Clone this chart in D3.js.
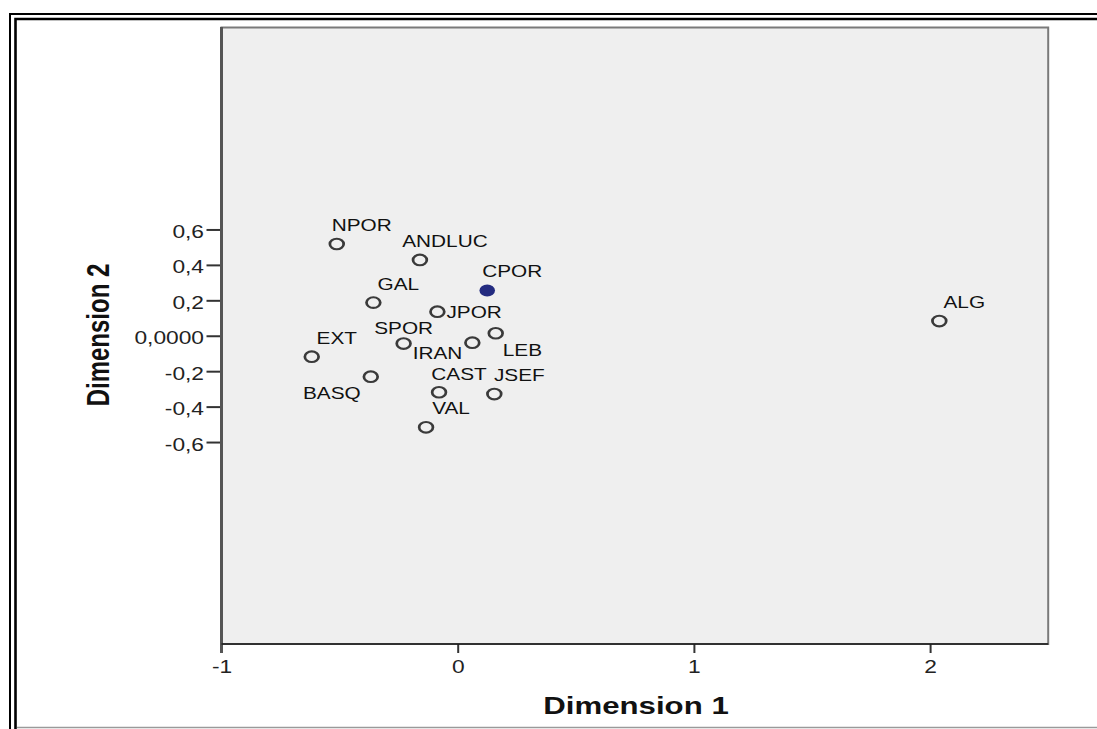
<!DOCTYPE html>
<html>
<head>
<meta charset="utf-8">
<script src="https://cdn.jsdelivr.net/npm/d3@7"></script>
<style>
  html, body { margin: 0; padding: 0; background: #ffffff; }
  svg { display: block; }
  text { font-family: "Liberation Sans", Arial, Helvetica, sans-serif; }
</style>
</head>
<body>
<svg id="chart" width="1097" height="729"></svg>
<script>
// Object points in the two-dimensional solution
const names = ["NPOR", "ANDLUC", "CPOR", "GAL", "JPOR", "LEB", "SPOR", "IRAN", "EXT", "BASQ", "CAST", "JSEF", "VAL", "ALG"];
const dim1  = [-0.512, -0.160, 0.125, -0.357, -0.086, 0.161, -0.229, 0.062, -0.618, -0.368, -0.079, 0.155, -0.134, 2.039];
const dim2  = [ 0.518,  0.428, 0.256,  0.187,  0.136, 0.014, -0.044, -0.039, -0.118, -0.231, -0.319, -0.329, -0.517, 0.083];
const highlighted = ["CPOR"];
// side of the point on which each label sits
const labelSide = ["ne", "ne", "ne", "ne", "e", "se", "n", "w", "ne", "sw", "nne", "ne", "ne", "ne"];

const xTicks = [-1, 0, 1, 2];
const yTicks = [-0.6, -0.4, -0.2, 0, 0.2, 0.4, 0.6];
const xTitle = "Dimension 1";
const yTitle = "Dimension 2";

// horizontal stretch applied to glyphs and markers
const SX = 1.3;

const svg = d3.select("#chart");

// double frame around the output
svg.append("path").attr("d", "M10,729 V14 H1097")
  .attr("fill", "none").attr("stroke", "#000").attr("stroke-width", 2);
svg.append("path").attr("d", "M15.5,729 V19 H1097")
  .attr("fill", "none").attr("stroke", "#000").attr("stroke-width", 2.6);
svg.append("line").attr("x1", 17).attr("x2", 1097).attr("y1", 727.5).attr("y2", 727.5)
  .attr("stroke", "#9a9a9a").attr("stroke-width", 1.5);

const x = d3.scaleLinear().domain([-1, 2.5]).range([221.5, 1048.2]);
const y = d3.scaleLinear().domain([-1.74, 1.74]).range([644, 27.5]);

// plot area
svg.append("rect")
  .attr("x", x.range()[0]).attr("y", y.range()[1])
  .attr("width", x.range()[1] - x.range()[0])
  .attr("height", y.range()[0] - y.range()[1])
  .attr("fill", "#efefef").attr("stroke", "#7a7a7a").attr("stroke-width", 2);

// x axis
const xAxis = svg.append("g")
  .attr("transform", `translate(0,${y.range()[0]})`)
  .call(d3.axisBottom(x).tickValues(xTicks).tickSize(9).tickFormat(d => String(d)));
xAxis.select(".domain").remove();
xAxis.selectAll(".tick line").attr("stroke", "#333").attr("stroke-width", 2);
xAxis.selectAll(".tick text")
  .attr("y", 29).attr("dy", 0).attr("x", 0)
  .attr("transform", `scale(${SX},1)`)
  .attr("fill", "#222").attr("font-size", 17.5);

// y axis
const yAxis = svg.append("g")
  .attr("transform", `translate(${x.range()[0]},0)`)
  .call(d3.axisLeft(y).tickValues(yTicks).tickSize(15)
    .tickFormat(d => d === 0 ? "0,0000" : d.toFixed(1).replace(".", ",")));
yAxis.select(".domain").remove();
yAxis.selectAll(".tick line").attr("stroke", "#333").attr("stroke-width", 2);
yAxis.selectAll(".tick text")
  .attr("x", -17.5 / SX).attr("dy", 0).attr("y", 8)
  .attr("transform", `scale(${SX},1)`)
  .attr("fill", "#222").attr("font-size", 17.5);

// axis lines
svg.append("line")
  .attr("x1", x.range()[0]).attr("x2", x.range()[0])
  .attr("y1", y.range()[1] - 0.5).attr("y2", y.range()[0] + 9)
  .attr("stroke", "#555").attr("stroke-width", 3);
svg.append("line")
  .attr("x1", x.range()[0]).attr("x2", x.range()[1])
  .attr("y1", y.range()[0]).attr("y2", y.range()[0])
  .attr("stroke", "#1a1a1a").attr("stroke-width", 1.5);

// axis titles
svg.append("text")
  .attr("transform", `translate(636,714) scale(${SX},1)`)
  .attr("text-anchor", "middle").attr("font-weight", "bold").attr("font-size", 24)
  .attr("fill", "#111").text(xTitle);
svg.append("text")
  .attr("transform", `translate(109,335) scale(${SX},1) rotate(-90)`)
  .attr("text-anchor", "middle").attr("font-weight", "bold").attr("font-size", 24)
  .attr("fill", "#111").text(yTitle);

// points
const points = names.map((n, i) => ({ name: n, d1: dim1[i], d2: dim2[i], side: labelSide[i] }));

const place = {
  ne:  { anchor: "middle", dx: 25, dy: -13 },
  nne: { anchor: "middle", dx: 20, dy: -12 },
  n:   { anchor: "middle", dx: 0,  dy: -10 },
  e:   { anchor: "start",  dx: 9,  dy: 6 },
  se:  { anchor: "start",  dx: 7,  dy: 23 },
  w:   { anchor: "end",    dx: -10, dy: 16 },
  sw:  { anchor: "end",    dx: -10, dy: 22 }
};

const pt = svg.append("g").selectAll("g")
  .data(points).join("g")
  .attr("transform", d => `translate(${x(d.d1)},${y(d.d2)})`);

pt.append("circle")
  .attr("transform", `scale(${SX},1)`)
  .attr("r", d => highlighted.includes(d.name) ? 6 : 5.3)
  .attr("fill", d => highlighted.includes(d.name) ? "#232b80" : "none")
  .attr("stroke", d => highlighted.includes(d.name) ? "none" : "#3a3a3a")
  .attr("stroke-width", 2.1);

pt.append("text")
  .attr("transform", d => `translate(${place[d.side].dx},${place[d.side].dy}) scale(${SX},1)`)
  .attr("text-anchor", d => place[d.side].anchor)
  .attr("font-size", 16).attr("fill", "#111")
  .text(d => d.name);
</script>
</body>
</html>
